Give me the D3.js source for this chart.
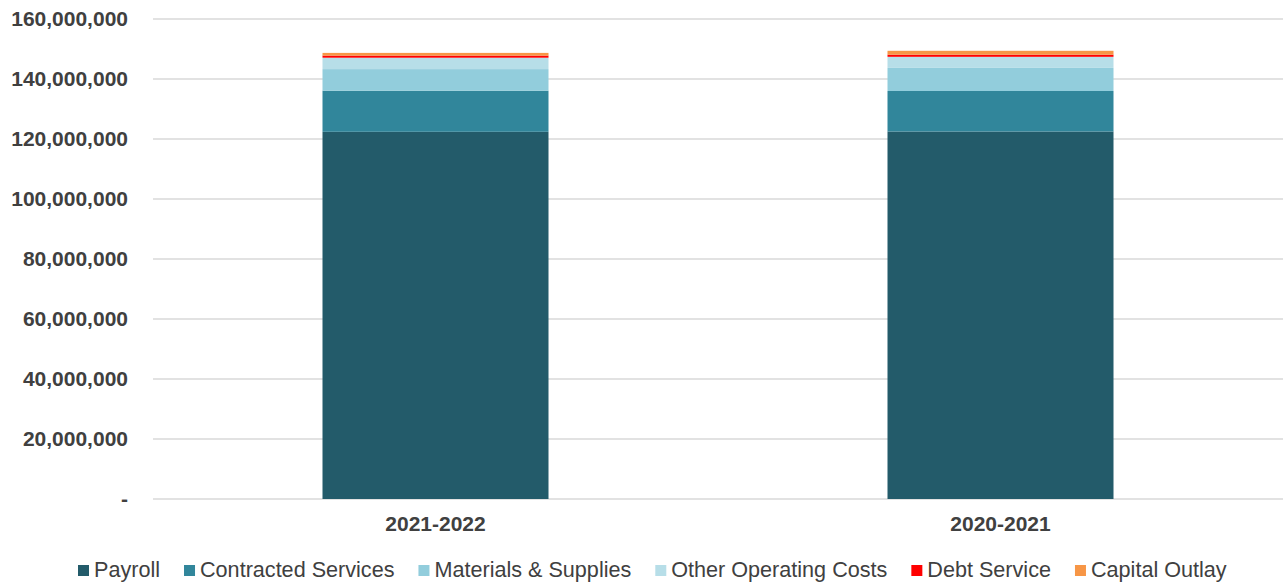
<!DOCTYPE html>
<html>
<head>
<meta charset="utf-8">
<script src="https://cdn.jsdelivr.net/npm/d3@7"></script>
<style>
  body { margin: 0; background: #fff; }
  text { font-family: "Liberation Sans", Arial, sans-serif; }
</style>
</head>
<body>
<div id="chart"></div>
<script>
// data (dollars)
const years = ["2021-2022", "2020-2021"];
const categories = ["Payroll", "Contracted Services", "Materials & Supplies", "Other Operating Costs", "Debt Service", "Capital Outlay"];
const payroll = [122400000, 122500000];
const contracted = [13700000, 13500000];
const materials = [7200000, 7700000];
const otherOps = [3800000, 3700000];
const debt = [700000, 700000];
const capital = [900000, 1300000];
const colors = ["#235b6a", "#31869b", "#92cddc", "#b7dee8", "#ff0000", "#f79646"];
const yTicks = [0, 20000000, 40000000, 60000000, 80000000, 100000000, 120000000, 140000000, 160000000];

const series = [payroll, contracted, materials, otherOps, debt, capital];
const rows = years.map((y, i) => {
    const r = { year: y };
    categories.forEach((c, j) => r[c] = series[j][i]);
    return r;
});

const width = 1285, height = 586;
const margin = { top: 19, right: 2, bottom: 87, left: 153 };

const svg = d3.select("#chart").append("svg")
    .attr("width", width)
    .attr("height", height);

const x = d3.scaleBand()
    .domain(years)
    .range([margin.left, width - margin.right])
    .paddingInner(0.6)
    .paddingOuter(0.3);

const y = d3.scaleLinear()
    .domain([0, 160000000])
    .range([height - margin.bottom, margin.top]);

// gridlines
svg.append("g")
    .selectAll("line")
    .data(yTicks)
    .join("line")
    .attr("x1", margin.left)
    .attr("x2", width - margin.right)
    .attr("y1", d => y(d))
    .attr("y2", d => y(d))
    .attr("stroke", "#d9d9d9")
    .attr("stroke-width", 1.5);

// y labels
svg.append("g")
    .selectAll("text")
    .data(yTicks)
    .join("text")
    .attr("x", 128)
    .attr("y", d => y(d))
    .attr("dy", "0.35em")
    .attr("text-anchor", "end")
    .style("font-size", "21px")
    .style("font-weight", "bold")
    .style("fill", "#404040")
    .text(d => d === 0 ? "-" : d3.format(",")(d));

// stacked bars
const stack = d3.stack().keys(categories)(rows);

svg.append("g")
    .selectAll("g")
    .data(stack)
    .join("g")
    .attr("fill", (d, i) => colors[i])
    .selectAll("rect")
    .data(d => d)
    .join("rect")
    .attr("x", d => x(d.data.year))
    .attr("width", x.bandwidth())
    .attr("y", d => y(d[1]))
    .attr("height", d => y(d[0]) - y(d[1]));

// x labels
svg.append("g")
    .selectAll("text")
    .data(years)
    .join("text")
    .attr("x", d => x(d) + x.bandwidth() / 2)
    .attr("y", 531)
    .attr("text-anchor", "middle")
    .style("font-size", "21px")
    .style("font-weight", "bold")
    .style("fill", "#404040")
    .text(d => d);

// legend
const legend = svg.append("g");
let lx = 0;
categories.forEach((c, i) => {
    const g = legend.append("g").attr("transform", `translate(${lx},0)`);
    g.append("rect")
        .attr("x", 0)
        .attr("y", -12)
        .attr("width", 11)
        .attr("height", 11)
        .attr("fill", colors[i]);
    const t = g.append("text")
        .attr("x", 16)
        .attr("y", 0)
        .style("font-size", "21.6px")
        .style("fill", "#404040")
        .text(c);
    lx += 16 + t.node().getComputedTextLength() + 24;
});
legend.attr("transform", "translate(78,577)");
</script>
</body>
</html>
